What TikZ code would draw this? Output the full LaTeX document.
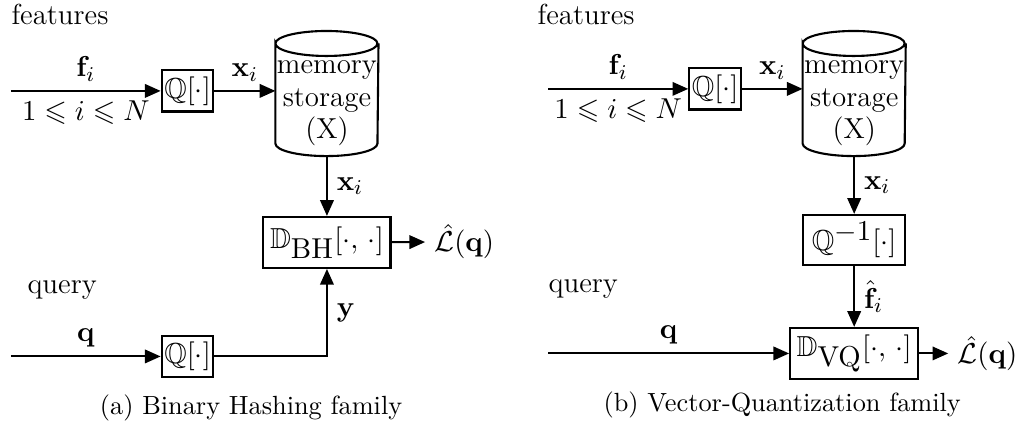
\documentclass[tikz,border=0pt]{standalone}
\usepackage{amsmath}
\usepackage{amssymb}
\usepackage{tikz}
\usetikzlibrary{calc}
\usetikzlibrary{positioning}
\usetikzlibrary{arrows.meta}

\begin{document}
\begin{tikzpicture}[every node/.style={font=\fontsize{11}{12.2}\selectfont},
		box/.style={draw,thick,inner sep=1pt,minimum width=.68cm,minimum height=.55cm},
		store/.style={inner sep=0pt,minimum width=1.364cm,minimum height=1.658cm},
		storetext/.style={align=center,inner sep=0pt},
		flow/.style={thick,-{Triangle[length=2.1mm,width=1.8mm]}},
		lbl/.style={inner sep=0pt,anchor=west},
		subcap/.style={font=\fontsize{10}{12}\selectfont}]
				\useasboundingbox (0,0) rectangle (13.70,5.76);
				% (a) binary hashing
				\node[lbl] (feat1) at (0.147,5.561) {features};
				\coordinate (fin1) at (0.147,4.545);
				\node[box] (Q1) at (2.507,4.545) {$\mathbb{Q}[\cdot]$};
				\node[store] (mem1) at (4.37,4.51) {};
				\node[storetext] (mem1txt) at ($(mem1)+(0,-.13)$) {memory\\storage\\(X)};
				\node[box,minimum width=1.70cm,minimum height=.68cm] (DBH) at (4.37,2.520) {$\mathbb{D}_{\textstyle\mathrm{BH}}[\cdot,\,\cdot]$};
				\node[anchor=west] (L1) at (5.682,2.527) {$\hat{\mathcal{L}}(\mathbf{q})$};
				\node[lbl] (query1) at (0.361,1.885) {query};
				\coordinate (qin1) at (0.147,0.996);
				\node[box] (Q2) at (2.507,0.996) {$\mathbb{Q}[\cdot]$};
				\node[subcap] (capa) at (3.356,0.307) {(a) Binary Hashing family};
				\draw (fin1) edge[flow] node[above] {$\mathbf{f}_i$} node[below] {$1\leqslant i\leqslant N$} (Q1);
				\draw (Q1) edge[flow] node[above] {$\mathbf{x}_i$} (Q1 -| mem1.west);
				\draw (mem1.south) edge[flow] node[right] {$\mathbf{x}_i$} (DBH);
				\draw (DBH) edge[flow] (L1);
				\draw (qin1) edge[flow] node[above] {$\mathbf{q}$} (Q2);
				\draw[flow] (Q2) -| node[pos=.75,right] {$\mathbf{y}$} (DBH);
				% (b) vector quantization
				\node[lbl] (feat2) at (7.179,5.561) {features};
				\coordinate (fin2) at (7.326,4.572);
				\node[box] (Q3) at (9.559,4.572) {$\mathbb{Q}[\cdot]$};
				\node[store] (mem2) at (11.417,4.51) {};
				\node[storetext] (mem2txt) at ($(mem2)+(0,-.13)$) {memory\\storage\\(X)};
				\node[box,minimum width=1.364cm,minimum height=.668cm] (Qinv) at (11.417,2.553) {$\mathbb{Q}^{\textstyle -1}[\cdot]$};
				\node[box,minimum width=1.711cm,minimum height=.682cm] (DVQ) at (11.417,1.036) {$\mathbb{D}_{\textstyle\mathrm{VQ}}[\cdot,\,\cdot]$};
				\node[anchor=west] (L2) at (12.674,1.036) {$\hat{\mathcal{L}}(\mathbf{q})$};
				\node[lbl] (query2) at (7.326,1.898) {query};
				\coordinate (qin2) at (7.326,1.036);
				\node[subcap] (capb) at (10.455,0.348) {(b) Vector-Quantization family};
				\draw (fin2) edge[flow] node[above] {$\mathbf{f}_i$} node[below] {$1\leqslant i\leqslant N$} (Q3);
				\draw (Q3) edge[flow] node[above] {$\mathbf{x}_i$} (Q3 -| mem2.west);
				\draw (mem2.south) edge[flow] node[right] {$\mathbf{x}_i$} (Qinv);
				\draw (Qinv) edge[flow] node[right] {$\hat{\mathbf{f}}_i$} (DVQ);
				\draw (qin2) edge[flow] node[above] {$\mathbf{q}$} (DVQ);
				\draw (DVQ) edge[flow] (L2);
				\foreach \m in {mem1,mem2}
					\draw[thick] ($(\m.north west)+(0,-.167)$) arc[start angle=180,end angle=-180,x radius=.682cm,y radius=.167cm]
						-- ($(\m.south west)+(0,.167)$) arc[start angle=180,end angle=360,x radius=.682cm,y radius=.167cm]
						-- ($(\m.north east)+(0,-.167)$);
			\end{tikzpicture}
\end{document}
